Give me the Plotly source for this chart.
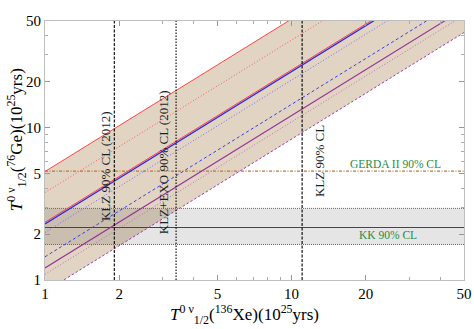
import numpy as np
import plotly.graph_objects as go

# ---- data ----
x_ends = [1, 50]                      # x range endpoints (10^25 yrs)
red_upper = [5.15, 257.5]             # upper edge of band
red_dotted = [3.75, 187.5]
red_mid = [2.39, 119.5]
blue_solid = [2.33, 116.5]
blue_dotted = [2.05, 102.5]
blue_dashed = [1.42, 71.0]
purple_solid = [1.20, 60.0]
purple_dotted = [1.09, 54.5]
purple_lower = [0.84, 42.0]           # lower edge of band

klz_2012 = 1.91
klz_exo_2012 = 3.40
klz_90 = 11.03
gerda_ii = 5.18
kk_central = 2.21
kk_low = 1.71
kk_high = 2.95

tick_vals = [1, 2, 5, 10, 20, 50]
tick_text = ["1", "2", "5", "10", "20", "50"]
minor_vals = [3, 4, 6, 7, 8, 9, 30, 40]

FONT = "Liberation Serif"

fig = go.Figure()

# band
fig.add_trace(go.Scatter(
    x=x_ends + x_ends[::-1], y=red_upper + purple_lower[::-1],
    fill="toself", fillcolor="rgb(225,212,195)", line=dict(width=0),
    mode="lines", hoverinfo="skip", showlegend=False))

# KK grey band
fig.add_trace(go.Scatter(
    x=[1, 50, 50, 1], y=[kk_low, kk_low, kk_high, kk_high],
    fill="toself", fillcolor="rgba(0,0,0,0.10)", line=dict(width=0),
    mode="lines", hoverinfo="skip", showlegend=False))
for yv in [kk_low, kk_high]:
    fig.add_trace(go.Scatter(x=[1, 50], y=[yv, yv], mode="lines",
                             line=dict(color="rgb(100,100,100)", width=1, dash="1px,1px"),
                             showlegend=False))
fig.add_trace(go.Scatter(x=[1, 50], y=[kk_central, kk_central], mode="lines",
                         line=dict(color="rgb(70,70,70)", width=1.1),
                         showlegend=False))

# GERDA
fig.add_trace(go.Scatter(x=[1, 50], y=[gerda_ii, gerda_ii], mode="lines",
                         line=dict(color="rgb(185,120,60)", width=1.1, dash="3px,1.5px,1px,1.5px"),
                         showlegend=False))

# diagonal lines
diag = [
    (red_upper, "rgb(255,70,70)", 1.0, "solid"),
    (red_dotted, "rgb(255,90,90)", 1.0, "1px,2px"),
    (red_mid, "rgb(255,60,60)", 1.0, "solid"),
    (blue_solid, "rgb(40,40,235)", 1.3, "solid"),
    (blue_dotted, "rgb(110,110,245)", 1.0, "1px,2px"),
    (blue_dashed, "rgb(60,60,240)", 1.0, "3px,2.5px"),
    (purple_solid, "rgb(150,50,150)", 1.1, "solid"),
    (purple_dotted, "rgb(190,110,190)", 1.0, "1px,2px"),
    (purple_lower, "rgb(160,60,170)", 1.0, "2.5px,2px"),
]
for ys, col, w, d in diag:
    fig.add_trace(go.Scatter(x=x_ends, y=ys, mode="lines",
                             line=dict(color=col, width=w, dash=d),
                             showlegend=False))

# vertical lines
for xv, d in [(klz_2012, "3px,1.5px"), (klz_exo_2012, "1.5px,1.5px"), (klz_90, "3px,1.5px")]:
    fig.add_trace(go.Scatter(x=[xv, xv], y=[1, 50], mode="lines",
                             line=dict(color="black", width=1.1, dash=d),
                             showlegend=False))

ann_font = dict(family=FONT, size=13, color="rgb(30,30,30)")
green_font = dict(family=FONT, size=11.5, color="rgb(30,140,70)")
annotations = [
    dict(x=np.log10(1.75), y=np.log10(5.58), text="KLZ 90% CL (2012)", textangle=-90,
         showarrow=False, font=ann_font, xref="x", yref="y"),
    dict(x=np.log10(3.01), y=np.log10(5.93), text="KLZ+EXO 90% CL (2012)", textangle=-90,
         showarrow=False, font=ann_font, xref="x", yref="y"),
    dict(x=np.log10(12.9), y=np.log10(6.02), text="KLZ 90% CL", textangle=-90,
         showarrow=False, font=ann_font, xref="x", yref="y"),
    dict(x=np.log10(26.3), y=np.log10(5.75), text="GERDA II 90% CL",
         showarrow=False, font=green_font, xref="x", yref="y"),
    dict(x=np.log10(24.6), y=np.log10(1.98), text="KK 90% CL",
         showarrow=False, font=green_font, xref="x", yref="y"),
    # axis titles
    dict(x=0.477, y=-0.132, xref="paper", yref="paper", showarrow=False,
         xanchor="center", yanchor="middle",
         text="<i>T</i><sup>0 ν</sup><sub>1/2</sub>(<sup>136</sup>Xe)(10<sup>25</sup>yrs)",
         font=dict(family=FONT, size=17, color="black")),
    dict(x=-0.069, y=0.54, xref="paper", yref="paper", showarrow=False, textangle=-90,
         xanchor="center", yanchor="middle",
         text="<i>T</i><sup>0 ν</sup><sub>1/2</sub>(<sup>76</sup>Ge)(10<sup>25</sup>yrs)",
         font=dict(family=FONT, size=17, color="black")),
]

axis_common = dict(
    type="log", tickvals=tick_vals, ticktext=tick_text,
    ticks="inside", ticklen=5, tickcolor="rgb(150,150,150)",
    showline=True, linecolor="rgb(190,190,190)", linewidth=1, mirror="ticks",
    showgrid=False, zeroline=False, automargin=False,
    tickfont=dict(family=FONT, size=15, color="black"),
    minor=dict(tickvals=minor_vals, ticks="inside", ticklen=3,
               tickcolor="rgb(170,170,170)", showgrid=False),
)

fig.update_layout(
    width=474, height=329,
    margin=dict(l=45, r=10, t=21, b=49),
    plot_bgcolor="white", paper_bgcolor="white",
    xaxis=dict(axis_common, range=[0, np.log10(50)]),
    yaxis=dict(axis_common, range=[0, np.log10(50)]),
    annotations=annotations,
    showlegend=False,
)

fig.write_html("out.html", config={"displayModeBar": False},
               post_script="document.body.style.margin='0';document.body.style.overflow='hidden';")
